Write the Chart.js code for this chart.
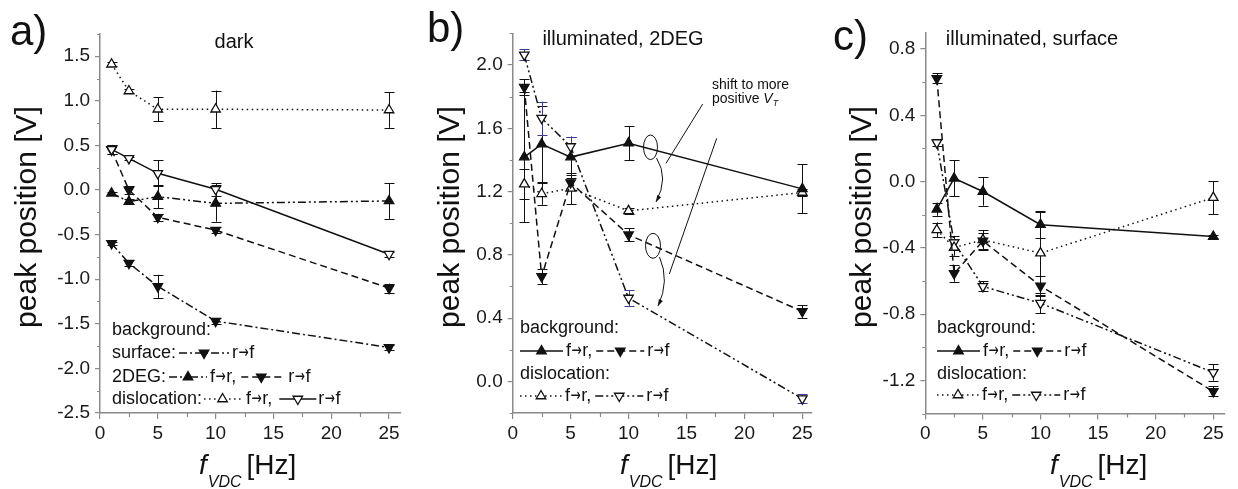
<!DOCTYPE html>
<html><head><meta charset="utf-8">
<script src="https://cdn.jsdelivr.net/npm/chart.js@4.4.1/dist/chart.umd.min.js"></script>
<style>
html,body{margin:0;padding:0;background:#fff;width:1238px;height:489px;overflow:hidden;}
canvas{position:absolute;top:0;}
</style></head><body>
<canvas id="ca" width="410" height="489" style="left:0px"></canvas>
<canvas id="cb" width="410" height="489" style="left:410px"></canvas>
<canvas id="cc" width="418" height="489" style="left:820px"></canvas>
<script>
// ---------- data ----------
const freq = [1, 2.5, 5, 10, 25];
const xTicks = [0, 5, 10, 15, 20, 25];
const aYTicks = [-2.5, -2.0, -1.5, -1.0, -0.5, 0.0, 0.5, 1.0, 1.5];
const bYTicks = [0.0, 0.4, 0.8, 1.2, 1.6, 2.0];
const cYTicks = [-1.2, -0.8, -0.4, 0.0, 0.4, 0.8];

// panel a: dark
const aDislFR    = [1.41, 1.11, 0.905, 0.905, 0.897];
const aDislFRErr = [0.02, 0.02, 0.135, 0.21, 0.2];
const aDislRF    = [0.456, 0.355, 0.187, 0.008, -0.72];
const aDislRFErr = [0.05, 0.02, 0.146, 0.07, 0.03];
const a2degFR    = [-0.037, -0.13, -0.075, -0.15, -0.123];
const a2degFRErr = [0.02, 0.03, 0.13, 0.205, 0.2];
const a2degRF    = [0.45, 0.0, -0.306, -0.45, -1.10];
const a2degRFErr = [0.05, 0.04, 0.04, 0.03, 0.05];
const aSurfRF    = [-0.6, -0.82, -1.08, -1.47, -1.765];
const aSurfRFErr = [0.02, 0.03, 0.13, 0.03, 0.03];

// panel b: illuminated, 2DEG
const bBgFR      = [1.418, 1.50, 1.418, 1.506, 1.217];
const bBgFRErr   = [0.41, 0.24, 0.13, 0.107, 0.155];
const bBgRF      = [1.86, 0.663, 1.257, 0.927, 0.442];
const bBgRFErr   = [0.05, 0.05, 0.05, 0.04, 0.04];
const bDislFR    = [1.247, 1.186, 1.22, 1.078, 1.194];
const bDislFRErr = [0.095, 0.07, 0.1, 0.02, 0.02];
const bDislRF    = [2.064, 1.664, 1.485, 0.527, -0.109];
const bDislRFErr = [0.035, 0.105, 0.06, 0.05, 0.03];

// panel c: illuminated, surface
const cBgFR      = [-0.167, 0.02, -0.06, -0.26, -0.332];
const cBgFRErr   = [0.04, 0.11, 0.085, 0.08, 0.01];
const cBgRF      = [0.623, -0.555, -0.358, -0.63, -1.267];
const cBgRFErr   = [0.03, 0.05, 0.05, 0.06, 0.03];
const cDislFR    = [-0.292, -0.398, -0.352, -0.432, -0.097];
const cDislFRErr = [0.045, 0.05, 0.06, 0.25, 0.1];
const cDislRF    = [0.235, -0.368, -0.633, -0.734, -1.152];
const cDislRFErr = [0.02, 0.04, 0.03, 0.06, 0.05];

// ---------- styles ----------
const FONT = '"Liberation Sans", Arial, sans-serif';
const AX = '#8a8a8a';
const INK = '#111';
const LS = { solid: [], dashed: [7, 4], dotted: [1.5, 3.5], dashdot: [8, 3, 2, 3], dashdotdot: [8, 3, 2, 3, 2, 3] };

function ds(vals, errs, dash, marker, errColor) {
  return {
    data: freq.map((x, i) => ({ x: x, y: vals[i] })),
    errors: errs,
    errColor: errColor || INK,
    borderColor: INK, borderWidth: 1.5, borderDash: LS[dash],
    pointStyle: 'triangle', pointRotation: marker.startsWith('down') ? 180 : 0,
    pointRadius: 5.5,
    pointBackgroundColor: marker.endsWith('Open') ? '#fff' : INK,
    pointBorderColor: INK, pointBorderWidth: 1.3,
    tension: 0, fill: false
  };
}

function drawTri(ctx, x, y, marker, r) {
  r = r || 5.5;
  let rad = marker.startsWith('down') ? Math.PI : 0;
  const T = 2 * Math.PI / 3;
  ctx.save();
  ctx.setLineDash([]);
  ctx.beginPath();
  ctx.moveTo(x + Math.sin(rad) * r, y - Math.cos(rad) * r);
  rad += T; ctx.lineTo(x + Math.sin(rad) * r, y - Math.cos(rad) * r);
  rad += T; ctx.lineTo(x + Math.sin(rad) * r, y - Math.cos(rad) * r);
  ctx.closePath();
  ctx.fillStyle = marker.endsWith('Open') ? '#fff' : INK;
  ctx.fill();
  ctx.lineWidth = 1.3; ctx.strokeStyle = INK; ctx.stroke();
  ctx.restore();
}

// draws text where the arrow glyph uses DejaVu Sans, horizontally condensed; returns width
function legendText(ctx, s, x, y) {
  let cx = x;
  const parts = s.split('\u2192');
  const baseFont = ctx.font;
  parts.forEach((p, i) => {
    if (p) { ctx.fillText(p, cx, y); cx += ctx.measureText(p).width; }
    if (i < parts.length - 1) {
      ctx.save();
      ctx.font = '18px "DejaVu Sans", sans-serif';
      const aw = ctx.measureText('\u2192').width;
      const k = 0.68;
      ctx.translate(cx + 0.5, y);
      ctx.scale(k, 1);
      ctx.fillText('\u2192', 0, 0);
      ctx.restore();
      ctx.font = baseFont;
      cx += aw * k + 1;
    }
  });
  return cx - x;
}

function drawLegend(ctx, leg, ox) {
  ctx.save();
  ctx.font = '18px ' + FONT; ctx.textBaseline = 'middle'; ctx.fillStyle = INK;
  leg.rows.forEach(row => {
    let x = leg.x - ox;
    row.items.forEach(it => {
      if (typeof it === 'number') { x += it; return; }
      if (it.t !== undefined) {
        x += legendText(ctx, it.t, x, row.y);
      } else {
        ctx.save();
        ctx.strokeStyle = INK; ctx.lineWidth = 1.5; ctx.setLineDash(LS[it.dash]);
        ctx.beginPath(); ctx.moveTo(x, row.y); ctx.lineTo(x + it.w, row.y); ctx.stroke();
        ctx.restore();
        drawTri(ctx, x + it.w / 2, row.y, it.m);
        x += it.w;
      }
    });
  });
  ctx.restore();
}

function arrowCurve(ctx, p0, c, p1) {
  ctx.beginPath(); ctx.moveTo(p0[0], p0[1]); ctx.quadraticCurveTo(c[0], c[1], p1[0], p1[1]); ctx.stroke();
  const ang = Math.atan2(p1[1] - c[1], p1[0] - c[0]);
  const L = 7, w = 0.32;
  ctx.beginPath();
  ctx.moveTo(p1[0], p1[1]);
  ctx.lineTo(p1[0] - L * Math.cos(ang - w), p1[1] - L * Math.sin(ang - w));
  ctx.lineTo(p1[0] - L * Math.cos(ang + w), p1[1] - L * Math.sin(ang + w));
  ctx.closePath(); ctx.fill();
}

function annotateB(ctx, ox) {
  ctx.save();
  ctx.translate(-ox, 0);
  ctx.fillStyle = INK; ctx.strokeStyle = INK; ctx.lineWidth = 1;
  ctx.font = '14px ' + FONT; ctx.textBaseline = 'alphabetic';
  ctx.fillText('shift to more', 712, 89);
  ctx.fillText('positive ', 712, 103);
  let x = 712 + ctx.measureText('positive ').width;
  ctx.font = 'italic 14px ' + FONT; ctx.fillText('V', x, 103);
  x += ctx.measureText('V').width;
  ctx.font = 'italic 9px ' + FONT; ctx.fillText('T', x, 106);
  ctx.beginPath(); ctx.moveTo(702.7, 104); ctx.lineTo(666, 163.3); ctx.stroke();
  ctx.beginPath(); ctx.moveTo(716.7, 138.3); ctx.lineTo(669.3, 274); ctx.stroke();
  ctx.beginPath(); ctx.ellipse(650.5, 147.3, 7, 12.3, 0, 0, 2 * Math.PI); ctx.stroke();
  ctx.beginPath(); ctx.ellipse(653, 245.8, 7.5, 12.5, 0, 0, 2 * Math.PI); ctx.stroke();
  arrowCurve(ctx, [656.5, 158], [669, 178], [656, 202]);
  arrowCurve(ctx, [659.5, 257], [670, 281], [658, 306]);
  ctx.restore();
}

function makeDeco(cfg) {
  return {
    id: 'deco' + cfg.id,
    beforeDatasetsDraw(chart) {
      const ctx = chart.ctx, ys = chart.scales.y;
      chart.data.datasets.forEach((d, i) => {
        const meta = chart.getDatasetMeta(i);
        ctx.save();
        ctx.strokeStyle = d.errColor; ctx.lineWidth = 1; ctx.setLineDash([]);
        meta.data.forEach((pt, j) => {
          const e = d.errors[j];
          if (!e) return;
          const v = d.data[j].y;
          const y1 = ys.getPixelForValue(v + e), y2 = ys.getPixelForValue(v - e);
          const x = Math.round(pt.x) + 0.5;
          ctx.beginPath();
          ctx.moveTo(x, y1); ctx.lineTo(x, y2);
          ctx.moveTo(x - 5, Math.round(y1) + 0.5); ctx.lineTo(x + 5, Math.round(y1) + 0.5);
          ctx.moveTo(x - 5, Math.round(y2) + 0.5); ctx.lineTo(x + 5, Math.round(y2) + 0.5);
          ctx.stroke();
        });
        ctx.restore();
      });
    },
    afterDraw(chart) {
      const ctx = chart.ctx, xs = chart.scales.x, ys = chart.scales.y, ca = chart.chartArea;
      const ox = cfg.ox;
      ctx.save();
      // minor ticks
      ctx.strokeStyle = AX; ctx.lineWidth = 1.2;
      ctx.beginPath();
      for (let v = 2.5; v < cfg.xMax; v += 5) {
        const px = Math.round(xs.getPixelForValue(v)) + 0.5;
        ctx.moveTo(px, ca.bottom); ctx.lineTo(px, ca.bottom + 4);
      }
      cfg.yMinor.forEach(v => {
        const py = Math.round(ys.getPixelForValue(v)) + 0.5;
        ctx.moveTo(ca.left, py); ctx.lineTo(ca.left - 3, py);
      });
      ctx.stroke();
      // panel label
      ctx.fillStyle = INK;
      ctx.textBaseline = 'alphabetic'; ctx.textAlign = 'left';
      ctx.font = '42px ' + FONT;
      ctx.fillText(cfg.label, cfg.labelX - ox, cfg.labelY);
      // title
      ctx.font = '20px ' + FONT; ctx.textAlign = 'center';
      ctx.fillText(cfg.title, cfg.titleX - ox, cfg.titleY);
      // y title
      ctx.save();
      ctx.translate(cfg.yTitleX - ox, 217);
      ctx.rotate(-Math.PI / 2);
      ctx.font = '30px ' + FONT; ctx.textAlign = 'center'; ctx.textBaseline = 'middle';
      ctx.fillText('peak position [V]', 0, 0);
      ctx.restore();
      // x title
      ctx.textAlign = 'left'; ctx.textBaseline = 'alphabetic';
      let x = cfg.xTitleX - ox;
      ctx.font = 'italic 28px ' + FONT; ctx.fillText('f', x, 474);
      x += ctx.measureText('f').width + 1;
      ctx.font = 'italic 16px ' + FONT; ctx.fillText('VDC', x, 487);
      x += ctx.measureText('VDC').width + 5;
      ctx.font = '28px ' + FONT; ctx.fillText('[Hz]', x, 474);
      ctx.restore();
      drawLegend(ctx, cfg.legend, ox);
      if (cfg.annot) cfg.annot(ctx, ox);
    }
  };
}

function makeChart(canvasId, cfg) {
  new Chart(document.getElementById(canvasId), {
    type: 'line',
    data: { datasets: cfg.datasets },
    options: {
      responsive: false, animation: false, events: [],
      layout: { padding: { left: 0, right: cfg.R, top: cfg.T, bottom: 0 } },
      plugins: { legend: { display: false }, tooltip: { enabled: false } },
      scales: {
        x: {
          type: 'linear', min: 0, max: cfg.xMax,
          afterBuildTicks: s => { s.ticks = xTicks.map(v => ({ value: v })); },
          afterFit: s => { s.height = cfg.H; },
          grid: { drawOnChartArea: false, drawTicks: true, tickLength: 6, color: AX, lineWidth: 1.2 },
          border: { display: true, color: AX, width: 1.5 },
          ticks: { font: { family: FONT, size: 19 }, color: '#1a1a1a', padding: 3, maxRotation: 0, autoSkip: false,
                   callback: v => String(v) }
        },
        y: {
          type: 'linear', min: cfg.yMin, max: cfg.yMax,
          afterBuildTicks: s => { s.ticks = cfg.yTicks.map(v => ({ value: v })); },
          afterFit: s => { s.width = cfg.L; },
          grid: { drawOnChartArea: false, drawTicks: true, tickLength: 5, color: AX, lineWidth: 1.2 },
          border: { display: true, color: AX, width: 1.5 },
          ticks: { font: { family: FONT, size: 19 }, color: '#1a1a1a', padding: 5, autoSkip: false,
                   callback: v => Number(v).toFixed(1) }
        }
      }
    },
    plugins: [makeDeco(cfg)]
  });
}

function minors(lo, hi, step) {
  const out = [];
  const n = Math.round((hi - lo) / step);
  for (let i = 0; i <= n; i++) out.push(lo + i * step);
  return out;
}

const bcLegendRows = (y) => [
  { y: y[0], items: [{ t: 'background:' }] },
  { y: y[1], items: [{ dash: 'solid', m: 'upFill', w: 43 }, 3, { t: 'f\u2192r,' }, 4, { dash: 'dashed', m: 'downFill', w: 48 }, 3, { t: 'r\u2192f' }] },
  { y: y[2], items: [{ t: 'dislocation:' }] },
  { y: y[3], items: [{ dash: 'dotted', m: 'upOpen', w: 42 }, 3, { t: 'f\u2192r,' }, 4, { dash: 'dashdotdot', m: 'downOpen', w: 48 }, 3, { t: 'r\u2192f' }] }
];

makeChart('ca', {
  id: 'a', ox: 0, L: 100, R: 9.4, T: 33.9, H: 76, xMax: 26,
  yMin: -2.5, yMax: 1.75, yTicks: aYTicks, yMinor: minors(-2.25, 1.75, 0.5),
  label: 'a)', labelX: 10, labelY: 45,
  title: 'dark', titleX: 234, titleY: 48,
  yTitleX: 28, xTitleX: 199,
  datasets: [
    ds(aDislFR, aDislFRErr, 'dotted', 'upOpen'),
    ds(aDislRF, aDislRFErr, 'solid', 'downOpen'),
    ds(a2degFR, a2degFRErr, 'dashdotdot', 'upFill'),
    ds(a2degRF, a2degRFErr, 'dashed', 'downFill'),
    ds(aSurfRF, aSurfRFErr, 'dashdot', 'downFill')
  ],
  legend: { x: 112, rows: [
    { y: 330, items: [{ t: 'background:' }] },
    { y: 353, items: [{ t: 'surface:' }, 3, { dash: 'dashdot', m: 'downFill', w: 50 }, 3, { t: 'r\u2192f' }] },
    { y: 377, items: [{ t: '2DEG:' }, 3, { dash: 'dashdotdot', m: 'upFill', w: 38 }, 3, { t: 'f\u2192r,' }, 5, { dash: 'dashed', m: 'downFill', w: 40 }, 7, { t: 'r\u2192f' }] },
    { y: 399, items: [{ t: 'dislocation:' }, 2, { dash: 'dotted', m: 'upOpen', w: 37 }, 5, { t: 'f\u2192r,' }, 7, { dash: 'solid', m: 'downOpen', w: 37 }, 2, { t: 'r\u2192f' }] }
  ] }
});

makeChart('cb', {
  id: 'b', ox: 410, L: 102.7, R: 8.4, T: 33.4, H: 76, xMax: 25.8,
  yMin: -0.2, yMax: 2.2, yTicks: bYTicks, yMinor: minors(-0.2, 2.2, 0.4),
  label: 'b)', labelX: 427, labelY: 42,
  title: 'illuminated, 2DEG', titleX: 623, titleY: 45,
  yTitleX: 451, xTitleX: 620,
  datasets: [
    ds(bBgFR, bBgFRErr, 'solid', 'upFill'),
    ds(bBgRF, bBgRFErr, 'dashed', 'downFill'),
    ds(bDislFR, bDislFRErr, 'dotted', 'upOpen'),
    ds(bDislRF, bDislRFErr, 'dashdotdot', 'downOpen', '#3b3b9a')
  ],
  legend: { x: 520, rows: bcLegendRows([328, 351, 374, 396]) },
  annot: annotateB
});

makeChart('cc', {
  id: 'c', ox: 820, L: 105.3, R: 13.2, T: 32.5, H: 75.5, xMax: 26,
  yMin: -1.4, yMax: 0.9, yTicks: cYTicks, yMinor: minors(-1.4, 0.6, 0.4),
  label: 'c)', labelX: 833, labelY: 50,
  title: 'illuminated, surface', titleX: 1032, titleY: 45,
  yTitleX: 863, xTitleX: 1050,
  datasets: [
    ds(cBgFR, cBgFRErr, 'solid', 'upFill'),
    ds(cBgRF, cBgRFErr, 'dashed', 'downFill'),
    ds(cDislFR, cDislFRErr, 'dotted', 'upOpen'),
    ds(cDislRF, cDislRFErr, 'dashdotdot', 'downOpen')
  ],
  legend: { x: 937, rows: bcLegendRows([328, 351, 374, 395]) }
});
</script></body></html>
